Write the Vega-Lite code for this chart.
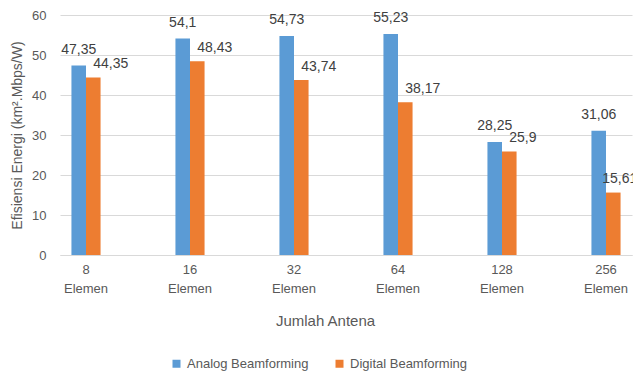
{
  "$schema": "https://vega.github.io/schema/vega-lite/v6.json",
  "width": 572,
  "height": 240,
  "autosize": {"type": "none"},
  "padding": {"left": 60, "top": 15, "right": 1, "bottom": 117},
  "background": "white",
  "config": {
    "view": {"stroke": null},
    "font": "Liberation Sans",
    "axis": {"labelFont": "Liberation Sans", "titleFont": "Liberation Sans"}
  },
  "data": {
    "values": [
      {"antena": "8 Elemen", "series": "Analog Beamforming", "value": 47.35, "label": "47,35"},
      {"antena": "8 Elemen", "series": "Digital Beamforming", "value": 44.35, "label": "44,35"},
      {"antena": "16 Elemen", "series": "Analog Beamforming", "value": 54.1, "label": "54,1"},
      {"antena": "16 Elemen", "series": "Digital Beamforming", "value": 48.43, "label": "48,43"},
      {"antena": "32 Elemen", "series": "Analog Beamforming", "value": 54.73, "label": "54,73"},
      {"antena": "32 Elemen", "series": "Digital Beamforming", "value": 43.74, "label": "43,74"},
      {"antena": "64 Elemen", "series": "Analog Beamforming", "value": 55.23, "label": "55,23"},
      {"antena": "64 Elemen", "series": "Digital Beamforming", "value": 38.17, "label": "38,17"},
      {"antena": "128 Elemen", "series": "Analog Beamforming", "value": 28.25, "label": "28,25"},
      {"antena": "128 Elemen", "series": "Digital Beamforming", "value": 25.9, "label": "25,9"},
      {"antena": "256 Elemen", "series": "Analog Beamforming", "value": 31.06, "label": "31,06"},
      {"antena": "256 Elemen", "series": "Digital Beamforming", "value": 15.61, "label": "15,61"}
    ]
  },
  "encoding": {
    "x": {
      "field": "antena",
      "type": "nominal",
      "sort": ["8 Elemen", "16 Elemen", "32 Elemen", "64 Elemen", "128 Elemen", "256 Elemen"],
      "scale": {"paddingInner": 0.72, "paddingOuter": 0.11},
      "axis": {
        "title": "Jumlah Antena",
        "labelAngle": 0,
        "labelExpr": "split(datum.label, ' ')",
        "labelFontSize": 13,
        "labelColor": "#595959",
        "labelLineHeight": 19,
        "labelPadding": 8,
        "labelBaseline": "top",
        "ticks": false,
        "domainColor": "#D9D9D9",
        "domainWidth": 1,
        "titleFontSize": 15,
        "titleFontWeight": "normal",
        "titleColor": "#595959",
        "titleX": 265,
        "titleY": 65,
        "titleAlign": "center",
        "titleBaseline": "middle"
      }
    },
    "xOffset": {
      "field": "series",
      "type": "nominal",
      "sort": ["Analog Beamforming", "Digital Beamforming"],
      "scale": {"paddingInner": 0, "paddingOuter": 0}
    },
    "y": {
      "field": "value",
      "type": "quantitative",
      "scale": {"domain": [0, 60], "nice": false},
      "axis": {
        "title": "Efisiensi Energi (km².Mbps/W)",
        "values": [0, 10, 20, 30, 40, 50, 60],
        "labelFontSize": 13,
        "labelColor": "#595959",
        "labelPadding": 14,
        "ticks": false,
        "domain": false,
        "gridColor": "#D9D9D9",
        "gridWidth": 1,
        "titleFontSize": 14,
        "titleFontWeight": "normal",
        "titleColor": "#595959",
        "titleX": -43,
        "titleY": 120,
        "titleAngle": -90,
        "titleAlign": "center",
        "titleBaseline": "middle"
      }
    }
  },
  "layer": [
    {
      "mark": {"type": "bar"},
      "encoding": {
        "color": {
          "field": "series",
          "type": "nominal",
          "sort": ["Analog Beamforming", "Digital Beamforming"],
          "scale": {"range": ["#5B9BD5", "#ED7D31"]},
          "legend": {
            "title": null,
            "orient": "none",
            "direction": "horizontal",
            "legendX": 110,
            "legendY": 342,
            "symbolType": "square",
            "symbolSize": 64,
            "symbolStrokeWidth": 0,
            "labelFontSize": 13,
            "labelColor": "#595959",
            "columnPadding": 24,
            "labelOffset": 4
          }
        }
      }
    },
    {
      "transform": [{"filter": "datum.series == 'Analog Beamforming'"}],
      "mark": {"type": "text", "align": "center", "baseline": "middle", "dy": -16, "fontSize": 14, "color": "#404040"},
      "encoding": {"text": {"field": "label"}}
    },
    {
      "transform": [{"filter": "datum.series == 'Digital Beamforming' && datum.antena != '256 Elemen'"}],
      "mark": {"type": "text", "align": "left", "baseline": "middle", "dx": 0, "dy": -13.5, "fontSize": 14, "color": "#404040"},
      "encoding": {"text": {"field": "label"}}
    },
    {
      "transform": [{"filter": "datum.series == 'Digital Beamforming' && datum.antena == '256 Elemen'"}],
      "mark": {"type": "text", "align": "left", "baseline": "middle", "dx": -11, "dy": -14, "fontSize": 14, "color": "#404040"},
      "encoding": {"text": {"field": "label"}}
    }
  ]
}
